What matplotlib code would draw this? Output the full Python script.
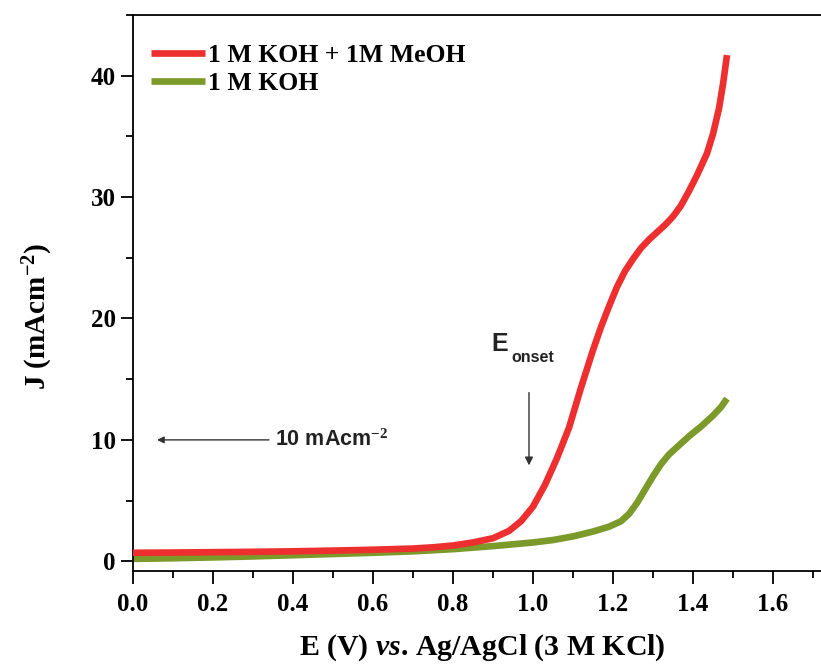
import matplotlib.pyplot as plt
from matplotlib.ticker import MultipleLocator, FormatStrFormatter

# Polarization curves: potential (V vs Ag/AgCl) and current density (mA cm^-2)
e_meoh = [0.00, 0.10, 0.20, 0.30, 0.40, 0.50, 0.60, 0.70, 0.75, 0.80, 0.85,
          0.90, 0.94, 0.97, 1.00, 1.03, 1.06, 1.09, 1.12, 1.15, 1.17, 1.19,
          1.21, 1.23, 1.25, 1.27, 1.29, 1.31, 1.33, 1.35, 1.37, 1.39, 1.41,
          1.435, 1.45, 1.465, 1.475, 1.485]
j_meoh = [0.70, 0.72, 0.75, 0.78, 0.82, 0.88, 0.95, 1.05, 1.15, 1.30, 1.55,
          1.90, 2.50, 3.30, 4.50, 6.30, 8.50, 11.0, 14.3, 17.4, 19.3, 21.0,
          22.6, 23.9, 24.9, 25.8, 26.5, 27.1, 27.7, 28.4, 29.3, 30.5, 31.8,
          33.6, 35.2, 37.3, 39.3, 41.7]

e_koh = [0.00, 0.10, 0.20, 0.30, 0.40, 0.50, 0.60, 0.70, 0.80, 0.90, 1.00,
         1.05, 1.10, 1.15, 1.19, 1.22, 1.24, 1.26, 1.28, 1.30, 1.32, 1.34,
         1.36, 1.39, 1.42, 1.45, 1.47, 1.485]
j_koh = [0.20, 0.25, 0.32, 0.40, 0.50, 0.60, 0.70, 0.82, 1.00, 1.25, 1.55,
         1.75, 2.05, 2.45, 2.85, 3.30, 3.90, 4.80, 5.90, 7.00, 8.00, 8.80,
         9.40, 10.3, 11.1, 12.0, 12.7, 13.4]

x_ticks = [0.0, 0.2, 0.4, 0.6, 0.8, 1.0, 1.2, 1.4, 1.6]
y_ticks = [0, 10, 20, 30, 40]

plt.rcParams['font.family'] = ['Liberation Serif', 'DejaVu Serif']
plt.rcParams['mathtext.fontset'] = 'custom'
plt.rcParams['mathtext.rm'] = 'Liberation Serif:bold'
plt.rcParams['mathtext.it'] = 'Liberation Serif:bold:italic'
plt.rcParams['mathtext.bf'] = 'Liberation Serif:bold'

fig = plt.figure(figsize=(8.21, 6.67), dpi=100)
ax = fig.add_axes([133 / 821, 96 / 667, 720 / 821, (571 - 15) / 667])

ax.plot(e_koh, j_koh, color='#7b9a2a', lw=4.8, solid_capstyle='butt',
        solid_joinstyle='round', label='1 M KOH', zorder=2)
ax.plot(e_meoh, j_meoh, color='#ee2f2f', lw=4.8, solid_capstyle='butt',
        solid_joinstyle='round', label='1 M KOH + 1M MeOH', zorder=3)

ax.set_xlim(0, 1.8)
ax.set_ylim(-0.8, 45)
ax.set_xticks(x_ticks)
ax.set_yticks(y_ticks)
ax.xaxis.set_minor_locator(MultipleLocator(0.1))
ax.yaxis.set_minor_locator(MultipleLocator(5))
ax.xaxis.set_major_formatter(FormatStrFormatter('%.1f'))

ax.tick_params(which='major', direction='out', length=9, width=1.3,
               labelsize=18, top=False, right=False)
ax.tick_params(axis='x', which='major', pad=7)
ax.tick_params(which='minor', direction='out', length=5, width=1.3,
               top=False, right=False)
for lab in ax.get_xticklabels() + ax.get_yticklabels():
    lab.set_fontweight('bold')
for side in ax.spines.values():
    side.set_linewidth(1.3)

ax.set_xlabel(r'E (V) $\it{vs}$. Ag/AgCl (3 M KCl)', fontsize=21.5,
              fontweight='bold')
ax.xaxis.label.set_va('baseline')
ax.xaxis.set_label_coords((482 - 133) / 720, (571 - 655) / 556)

ax.set_ylabel(r'J (mAcm$^{-2}$)', fontsize=21, fontweight='bold')
ax.yaxis.label.set_va('center')
ax.yaxis.set_label_coords((38 - 133) / 720, (571 - 316) / 556)

handles, labels = ax.get_legend_handles_labels()
leg = ax.legend(handles[::-1], labels[::-1], loc='upper left',
                bbox_to_anchor=(-0.007, 0.99), frameon=False,
                prop={'family': 'Liberation Serif', 'weight': 'bold', 'size': 18.5},
                handlelength=2.1, handletextpad=0.1, labelspacing=0.2,
                borderaxespad=0.5)

# Reference level arrow
ax.annotate('', xy=(0.06, 10), xytext=(0.34, 10),
            arrowprops=dict(arrowstyle='-|>', color='#333333', lw=1.0,
                            mutation_scale=10, shrinkA=0, shrinkB=0))
ax.text(0.355, 10, r'10 mAcm$^{\mathbf{-2}}$', fontsize=15.5, fontweight='bold',
        family='Liberation Sans', va='center', ha='left', color='#222222')

# Onset potential marker
ax.annotate('', xy=(0.99, 7.9), xytext=(0.99, 13.9),
            arrowprops=dict(arrowstyle='-|>', color='#333333', lw=1.0,
                            mutation_scale=12, shrinkA=0, shrinkB=0))
ax.text(0.897, 17.9, 'E', fontsize=18, fontweight='bold',
        family='Liberation Sans', va='center', ha='left', color='#222222')
ax.text(0.946, 16.8, 'onset', fontsize=11.5, fontweight='bold',
        family='Liberation Sans', va='center', ha='left', color='#222222')

fig.savefig('out.png', dpi=100)
